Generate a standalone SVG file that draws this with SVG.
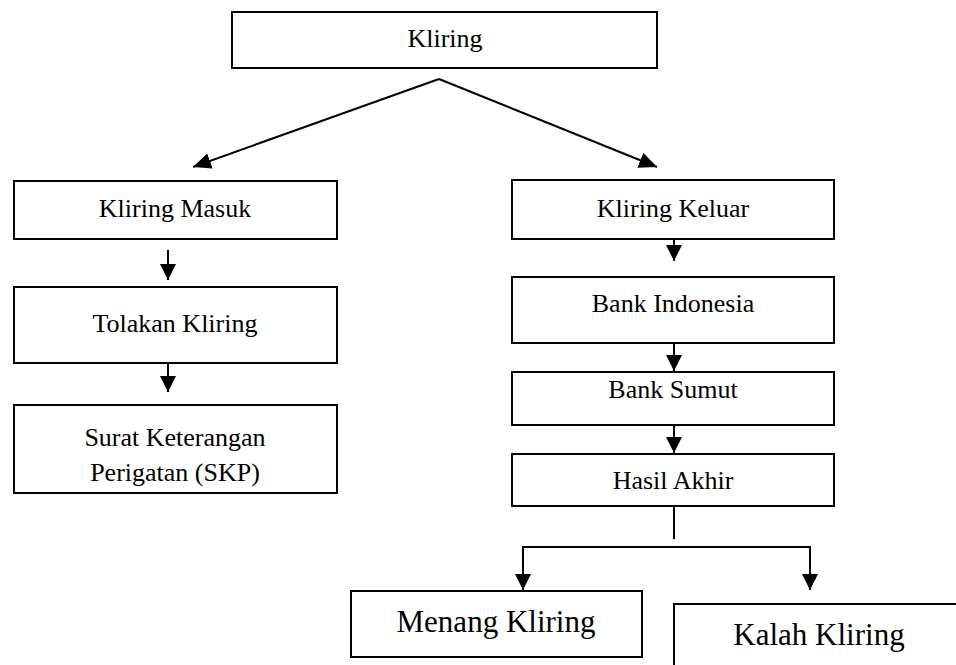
<svg xmlns="http://www.w3.org/2000/svg" width="956" height="665" viewBox="0 0 956 665">
  <style>
    .box { fill: #ffffff; stroke: #000000; stroke-width: 2; }
    .lbl { font-family: "Liberation Serif", "Times New Roman", serif; font-size: 26px; fill: #000000; text-anchor: middle; }
    .big { font-size: 31px; }
    .ln { fill: none; stroke: #000000; stroke-width: 2; }
    .arr { marker-end: url(#ah); }
    .arrd { marker-end: url(#ahd); }
  </style>
  <defs>
    <marker id="ah" markerUnits="userSpaceOnUse" markerWidth="17" markerHeight="17" refX="16" refY="8" orient="auto">
      <path d="M0,0 L16,8 L0,16 Z" fill="#000000"/>
    </marker>
    <marker id="ahd" markerUnits="userSpaceOnUse" markerWidth="19" markerHeight="17" refX="18" refY="8" orient="auto">
      <path d="M0,0 L18,8 L0,16 Z" fill="#000000"/>
    </marker>
  </defs>
  <rect width="956" height="665" fill="#ffffff"/>

  <g id="connectors">
    <line class="ln arrd" x1="439" y1="79" x2="193" y2="167"/>
    <line class="ln arrd" x1="439" y1="79" x2="657" y2="167"/>
    <line class="ln arr" x1="168" y1="250" x2="168" y2="280"/>
    <line class="ln arr" x1="168" y1="363" x2="168" y2="392"/>
    <line class="ln arr" x1="674" y1="240" x2="674" y2="261"/>
    <line class="ln arr" x1="674" y1="343" x2="674" y2="371"/>
    <line class="ln arr" x1="674" y1="425" x2="674" y2="453"/>
    <line class="ln" x1="674" y1="506" x2="674" y2="539"/>
    <polyline class="ln arr" points="810,547 523,547 523,590"/>
    <line class="ln arr" x1="810" y1="546" x2="810" y2="590"/>
  </g>

  <g id="kliring">
    <rect class="box" x="232" y="12" width="425" height="56"/>
    <text class="lbl" x="445" y="47">Kliring</text>
  </g>
  <g id="kliring-masuk">
    <rect class="box" x="14" y="181" width="323" height="58"/>
    <text class="lbl" x="175" y="217">Kliring Masuk</text>
  </g>
  <g id="tolakan-kliring">
    <rect class="box" x="14" y="287" width="323" height="76"/>
    <text class="lbl" x="175" y="332">Tolakan Kliring</text>
  </g>
  <g id="skp">
    <rect class="box" x="14" y="405" width="323" height="88"/>
    <text class="lbl" x="175" y="446">Surat Keterangan</text>
    <text class="lbl" x="175" y="481">Perigatan (SKP)</text>
  </g>
  <g id="kliring-keluar">
    <rect class="box" x="512" y="180" width="322" height="59"/>
    <text class="lbl" x="673" y="217">Kliring Keluar</text>
  </g>
  <g id="bank-indonesia">
    <rect class="box" x="512" y="277" width="322" height="66"/>
    <text class="lbl" x="673" y="312">Bank Indonesia</text>
  </g>
  <g id="bank-sumut">
    <rect class="box" x="512" y="372" width="322" height="53"/>
    <text class="lbl" x="673" y="398">Bank Sumut</text>
  </g>
  <g id="hasil-akhir">
    <rect class="box" x="512" y="454" width="322" height="52"/>
    <text class="lbl" x="673" y="489">Hasil Akhir</text>
  </g>
  <g id="menang-kliring">
    <rect class="box" x="351" y="591" width="291" height="66"/>
    <text class="lbl big" x="496" y="632">Menang Kliring</text>
  </g>
  <g id="kalah-kliring">
    <rect class="box" x="674" y="604" width="300" height="80"/>
    <text class="lbl big" x="819" y="645">Kalah Kliring</text>
  </g>
</svg>
